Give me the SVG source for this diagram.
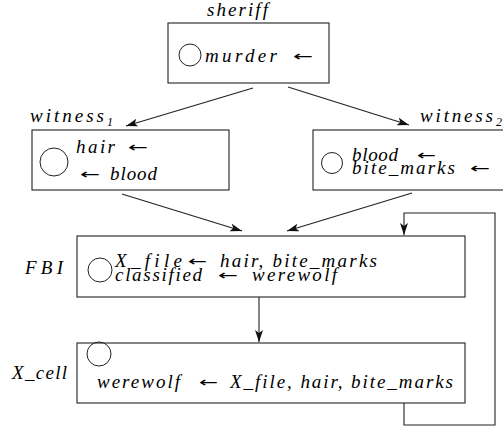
<svg xmlns="http://www.w3.org/2000/svg" width="503" height="430" viewBox="0 0 503 430">
<defs>
<style>
.box{fill:#fff;stroke:#222;stroke-width:1.1}
.circ{fill:none;stroke:#222;stroke-width:1}
.t{font-family:"Liberation Serif","DejaVu Serif",serif;font-style:italic;font-weight:normal;font-size:19px;fill:#000}
.a{font-family:"DejaVu Sans","Liberation Sans",sans-serif;font-size:14px;fill:#000}
.sub{font-family:"Liberation Serif","DejaVu Serif",serif;font-style:italic;font-size:12px;fill:#000}
.c{fill:none;stroke:#222;stroke-width:1.1}
</style>
<marker id="ah" viewBox="0 0 12 8" refX="12" refY="4" markerWidth="12" markerHeight="8" markerUnits="userSpaceOnUse" orient="auto">
<path d="M0,0 L12,4 L0,8 L3,4 Z" fill="#111"/>
</marker>
</defs>
<g id="connectors">
<line class="c" x1="253" y1="88" x2="126" y2="126" marker-end="url(#ah)"/>
<line class="c" x1="288" y1="87" x2="409" y2="125" marker-end="url(#ah)"/>
<line class="c" x1="122" y1="194" x2="242" y2="231" marker-end="url(#ah)"/>
<line class="c" x1="412" y1="193" x2="287" y2="231" marker-end="url(#ah)"/>
<line class="c" x1="259" y1="297" x2="259" y2="342" marker-end="url(#ah)"/>
<polyline class="c" points="404,403 404,425 495,425 495,213 404,213 404,235" marker-end="url(#ah)"/>
</g>
<g id="sheriff">
<rect class="box" x="168" y="23" width="161" height="60"/>
<text class="t" x="207" y="16" textLength="61" lengthAdjust="spacing">sheriff</text>
<circle class="circ" cx="190" cy="55" r="11"/>
<text class="t" x="205" y="62" textLength="72" lengthAdjust="spacing">murder</text>
<text class="a" x="293" y="61" textLength="20" lengthAdjust="spacingAndGlyphs">←</text>
</g>
<g id="witness1">
<rect class="box" x="32" y="130" width="197" height="60"/>
<text class="t" x="30" y="122" textLength="74" lengthAdjust="spacing">witness</text>
<text class="sub" x="107" y="126">1</text>
<circle class="circ" cx="54" cy="162" r="14"/>
<text class="t" x="76" y="153" textLength="39" lengthAdjust="spacing">hair</text>
<text class="a" x="128" y="152" textLength="20" lengthAdjust="spacingAndGlyphs">←</text>
<text class="a" x="80" y="179" textLength="20" lengthAdjust="spacingAndGlyphs">←</text>
<text class="t" x="110" y="180" textLength="47" lengthAdjust="spacing">blood</text>
</g>
<g id="witness2">
<rect class="box" x="313" y="130" width="194" height="60"/>
<text class="t" x="420" y="122" textLength="73" lengthAdjust="spacing">witness</text>
<text class="sub" x="496" y="126">2</text>
<circle class="circ" cx="332" cy="163" r="10.5"/>
<text class="t" x="352" y="161" textLength="46" lengthAdjust="spacing">blood</text>
<text class="a" x="417" y="160" textLength="19" lengthAdjust="spacingAndGlyphs">←</text>
<text class="t" x="352" y="174" textLength="103" lengthAdjust="spacing">bite_marks</text>
<text class="a" x="470" y="173" textLength="20" lengthAdjust="spacingAndGlyphs">←</text>
</g>
<g id="FBI">
<rect class="box" x="77" y="236" width="388" height="61"/>
<text class="t" x="25" y="274" textLength="38" lengthAdjust="spacing">FBI</text>
<circle class="circ" cx="100" cy="270" r="12"/>
<text class="t" x="115" y="267" textLength="67" lengthAdjust="spacing">X_file</text>
<text class="a" x="188" y="266" textLength="19" lengthAdjust="spacingAndGlyphs">←</text>
<text class="t" x="220" y="267" textLength="157" lengthAdjust="spacing">hair, bite_marks</text>
<text class="t" x="115" y="281" textLength="87" lengthAdjust="spacing">classified</text>
<text class="a" x="218" y="280" textLength="20" lengthAdjust="spacingAndGlyphs">←</text>
<text class="t" x="252" y="281" textLength="85" lengthAdjust="spacing">werewolf</text>
</g>
<g id="X_cell">
<rect class="box" x="77" y="343" width="388" height="60"/>
<text class="t" x="12" y="379" textLength="55" lengthAdjust="spacing">X_cell</text>
<circle class="circ" cx="99" cy="354" r="12"/>
<text class="t" x="97" y="388" textLength="83" lengthAdjust="spacing">werewolf</text>
<text class="a" x="199" y="387" textLength="19" lengthAdjust="spacingAndGlyphs">←</text>
<text class="t" x="230" y="388" textLength="223" lengthAdjust="spacing">X_file, hair, bite_marks</text>
</g>
</svg>
